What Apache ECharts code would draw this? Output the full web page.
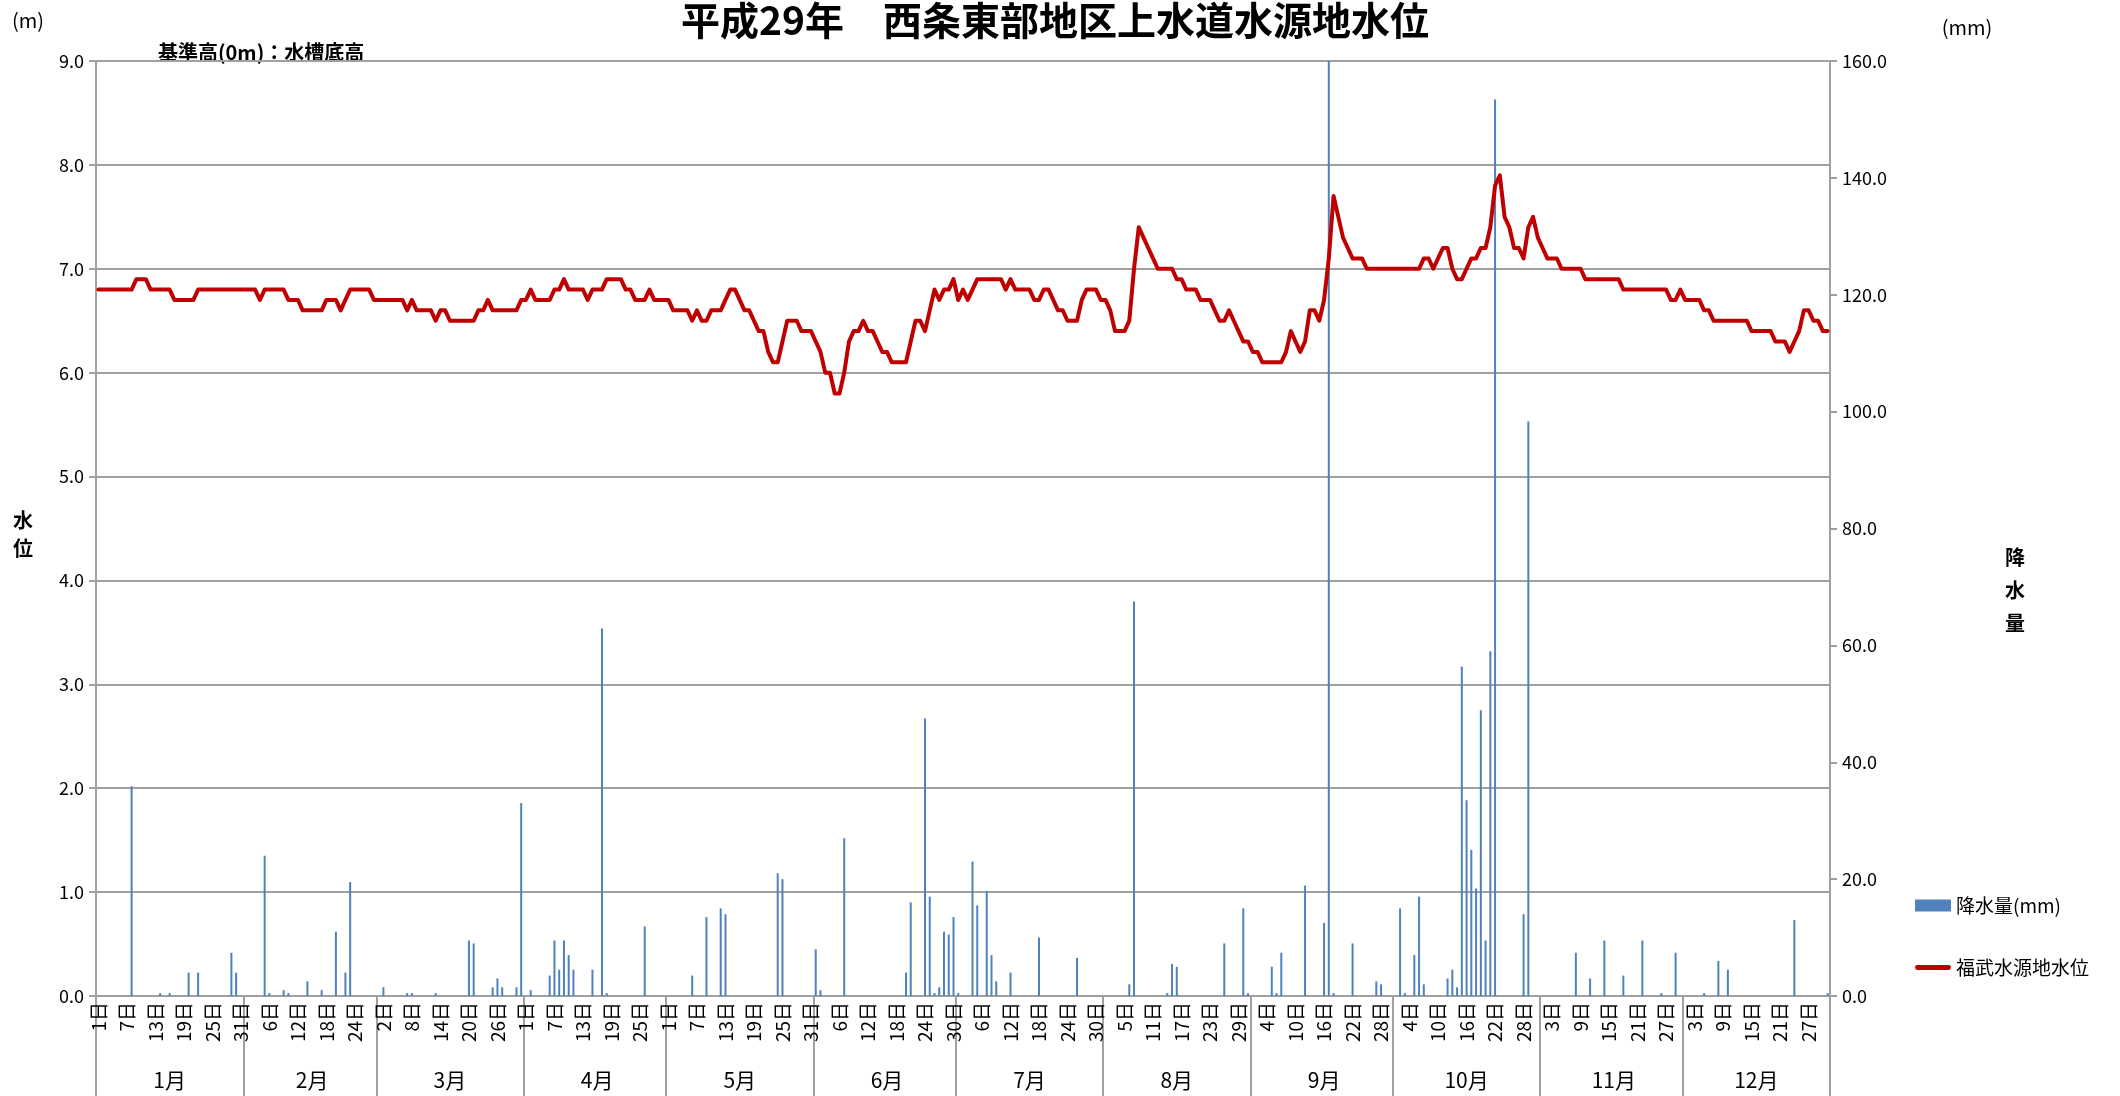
<!DOCTYPE html>
<html>
<head>
<meta charset="utf-8">
<title>西条東部地区上水道水源地水位</title>
<script src="https://cdn.jsdelivr.net/npm/echarts@6.0.0/dist/echarts.min.js"></script>
<style>
html, body { margin: 0; padding: 0; background: #fff; }
#chart { width: 2120px; height: 1096px; }
</style>
</head>
<body>
<div id="chart"></div>
<script>
var monthNames = ['1月', '2月', '3月', '4月', '5月', '6月', '7月', '8月', '9月', '10月', '11月', '12月'];
var monthDays = [31, 28, 31, 30, 31, 30, 31, 31, 30, 31, 30, 31];

// 福武水源地水位 (m) 日別
var levelJan = [6.8,6.8,6.8,6.8,6.8,6.8,6.8,6.8,6.9,6.9, 6.9,6.8,6.8,6.8,6.8,6.8,6.7,6.7,6.7,6.7, 6.7,6.8,6.8,6.8,6.8,6.8,6.8,6.8,6.8,6.8, 6.8];
var levelFeb = [6.8,6.8,6.8,6.7,6.8,6.8,6.8,6.8,6.8,6.7, 6.7,6.7,6.6,6.6,6.6,6.6,6.6,6.7,6.7,6.7, 6.6,6.7,6.8,6.8,6.8,6.8,6.8,6.7];
var levelMar = [6.7,6.7,6.7,6.7,6.7,6.7,6.6,6.7,6.6,6.6, 6.6,6.6,6.5,6.6,6.6,6.5,6.5,6.5,6.5,6.5, 6.5,6.6,6.6,6.7,6.6,6.6,6.6,6.6,6.6,6.6, 6.7];
var levelApr = [6.7,6.8,6.7,6.7,6.7,6.7,6.8,6.8,6.9,6.8, 6.8,6.8,6.8,6.7,6.8,6.8,6.8,6.9,6.9,6.9, 6.9,6.8,6.8,6.7,6.7,6.7,6.8,6.7,6.7,6.7];
var levelMay = [6.7,6.6,6.6,6.6,6.6,6.5,6.6,6.5,6.5,6.6, 6.6,6.6,6.7,6.8,6.8,6.7,6.6,6.6,6.5,6.4, 6.4,6.2,6.1,6.1,6.3,6.5,6.5,6.5,6.4,6.4, 6.4];
var levelJun = [6.3,6.2,6.0,6.0,5.8,5.8,6.0,6.3,6.4,6.4, 6.5,6.4,6.4,6.3,6.2,6.2,6.1,6.1,6.1,6.1, 6.3,6.5,6.5,6.4,6.6,6.8,6.7,6.8,6.8,6.9];
var levelJul = [6.7,6.8,6.7,6.8,6.9,6.9,6.9,6.9,6.9,6.9, 6.8,6.9,6.8,6.8,6.8,6.8,6.7,6.7,6.8,6.8, 6.7,6.6,6.6,6.5,6.5,6.5,6.7,6.8,6.8,6.8, 6.7];
var levelAug = [6.7,6.6,6.4,6.4,6.4,6.5,7.0,7.4,7.3,7.2, 7.1,7.0,7.0,7.0,7.0,6.9,6.9,6.8,6.8,6.8, 6.7,6.7,6.7,6.6,6.5,6.5,6.6,6.5,6.4,6.3, 6.3];
var levelSep = [6.2,6.2,6.1,6.1,6.1,6.1,6.1,6.2,6.4,6.3, 6.2,6.3,6.6,6.6,6.5,6.7,7.1,7.7,7.5,7.3, 7.2,7.1,7.1,7.1,7.0,7.0,7.0,7.0,7.0,7.0];
var levelOct = [7.0,7.0,7.0,7.0,7.0,7.0,7.1,7.1,7.0,7.1, 7.2,7.2,7.0,6.9,6.9,7.0,7.1,7.1,7.2,7.2, 7.4,7.8,7.9,7.5,7.4,7.2,7.2,7.1,7.4,7.5, 7.3];
var levelNov = [7.2,7.1,7.1,7.1,7.0,7.0,7.0,7.0,7.0,6.9, 6.9,6.9,6.9,6.9,6.9,6.9,6.9,6.8,6.8,6.8, 6.8,6.8,6.8,6.8,6.8,6.8,6.8,6.7,6.7,6.8];
var levelDec = [6.7,6.7,6.7,6.7,6.6,6.6,6.5,6.5,6.5,6.5, 6.5,6.5,6.5,6.5,6.4,6.4,6.4,6.4,6.4,6.3, 6.3,6.3,6.2,6.3,6.4,6.6,6.6,6.5,6.5,6.4, 6.4];

// 降水量 (mm) 日別
var rainJan = [0,0,0,0,0,0,0,35.9,0,0, 0,0,0,0.5,0,0.5,0,0,0,4.0, 0,4.0,0,0,0,0,0,0,7.4,4.0, 0];
var rainFeb = [0,0,0,0,24.0,0.5,0,0,1.0,0.5, 0,0,0,2.5,0,0,1.0,0,0,11.0, 0,4.0,19.5,0,0,0,0,0];
var rainMar = [0,1.5,0,0,0,0,0.5,0.5,0,0, 0,0,0.5,0,0,0,0,0,0,9.5, 9.0,0,0,0,1.5,3.0,1.5,0,0,1.5, 33.0];
var rainApr = [0,1.0,0,0,0,3.5,9.5,4.5,9.5,7.0, 4.5,0,0,0,4.5,0,62.9,0.5,0,0, 0,0,0,0,0,11.9,0,0,0,0];
var rainMay = [0,0,0,0,0,3.5,0,0,13.5,0, 0,15.0,14.0,0,0,0,0,0,0,0, 0,0,0,21.0,20.0,0,0,0,0,0, 0];
var rainJun = [8.0,1.0,0,0,0,0,27.0,0,0,0, 0,0,0,0,0,0,0,0,0,4.0, 16.0,0,0,47.5,17.0,0.5,1.5,11.0,10.5,13.5];
var rainJul = [0.5,0,0,23.0,15.5,0,18.0,7.0,2.5,0, 0,4.0,0,0,0,0,0,10.0,0,0, 0,0,0,0,0,6.5,0,0,0,0, 0];
var rainAug = [0,0,0,0,0,2.0,67.5,0,0,0, 0,0,0,0.5,5.5,5.0,0,0,0,0, 0,0,0,0,0,9.0,0,0,0,15.0, 0.5];
var rainSep = [0,0,0,0,5.0,0.5,7.4,0,0,0, 0,18.9,0,0,0,12.5,160.0,0.5,0,0, 0,9.0,0,0,0,0,2.5,2.0,0,0];
var rainOct = [0,15.0,0.5,0,7.0,17.0,2.0,0,0,0, 0,3.0,4.5,1.5,56.4,33.5,25.0,18.4,48.9,9.5, 59.0,153.4,0,0,0,0,0,14.0,98.3,0, 0];
var rainNov = [0,0,0,0,0,0,0,7.4,0,0, 3.0,0,0,9.5,0,0,0,3.5,0,0, 0,9.5,0,0,0,0.5,0,0,7.4,0];
var rainDec = [0,0,0,0,0.5,0,0,6.0,0,4.5, 0,0,0,0,0,0,0,0,0,0, 0,0,0,13.0,0,0,0,0,0,0, 0.5];

var levelData = [].concat(levelJan, levelFeb, levelMar, levelApr, levelMay, levelJun,
    levelJul, levelAug, levelSep, levelOct, levelNov, levelDec);
var rainData = [].concat(rainJan, rainFeb, rainMar, rainApr, rainMay, rainJun,
    rainJul, rainAug, rainSep, rainOct, rainNov, rainDec);

// 日ラベルと月の区切り
var dayLabels = [];
var monthOfDay = [];
var monthStart = {};
var monthMid = {};
var pos = 0;
for (var m = 0; m < 12; m++) {
    monthStart[pos] = true;
    monthMid[pos + Math.floor(monthDays[m] / 2)] = true;
    for (var d = 1; d <= monthDays[m]; d++) {
        dayLabels.push(d + '日');
        monthOfDay.push(m);
    }
    pos += monthDays[m];
}

var FONT = '"Noto Sans CJK JP", "Noto Sans", sans-serif';
var GRAY = '#a0a0a0';

var chart = echarts.init(document.getElementById('chart'));
chart.setOption({
    animation: false,
    backgroundColor: '#fff',
    textStyle: { fontFamily: FONT, color: '#000' },
    grid: { left: 96, right: 290, top: 61, bottom: 100, containLabel: false },
    legend: {
        orient: 'vertical',
        left: 1910,
        top: 891,
        itemWidth: 36,
        itemHeight: 12,
        itemGap: 43,
        symbolKeepAspect: true,
        textStyle: { fontFamily: FONT, fontSize: 19, color: '#000' },
        data: [
            { name: '降水量(mm)', icon: 'rect' },
            { name: '福武水源地水位', icon: 'path://M2,0L34,0A2.5,2.5,0,0,1,34,5L2,5A2.5,2.5,0,0,1,2,0Z' }
        ]
    },
    xAxis: [{
        type: 'category',
        data: dayLabels,
        boundaryGap: true,
        axisLine: { lineStyle: { color: GRAY, width: 2 } },
        axisTick: {
            show: true,
            length: 100,
            interval: function (idx) { return !!monthStart[idx]; },
            lineStyle: { color: GRAY, width: 2 }
        },
        axisLabel: {
            interval: 5,
            rotate: 90,
            margin: 6,
            fontSize: 19,
            fontFamily: FONT,
            color: '#000'
        },
        splitLine: { show: false }
    }, {
        type: 'category',
        data: dayLabels,
        position: 'bottom',
        offset: 66,
        axisLine: { show: false },
        axisTick: { show: false },
        axisLabel: {
            interval: function (idx) { return !!monthMid[idx]; },
            formatter: function (v, idx) { return monthNames[monthOfDay[idx]]; },
            margin: 8,
            fontSize: 21,
            fontFamily: FONT,
            color: '#000'
        },
        splitLine: { show: false }
    }],
    yAxis: [{
        type: 'value',
        min: 0,
        max: 9,
        interval: 1,
        position: 'left',
        axisLine: { show: true, lineStyle: { color: GRAY, width: 2 } },
        axisTick: { show: true, length: 7, lineStyle: { color: GRAY, width: 2 } },
        axisLabel: {
            margin: 12,
            fontSize: 18,
            fontFamily: FONT,
            color: '#000',
            formatter: function (v) { return v.toFixed(1); }
        },
        splitLine: { show: true, lineStyle: { color: GRAY, width: 2 } }
    }, {
        type: 'value',
        min: 0,
        max: 160,
        interval: 20,
        position: 'right',
        axisLine: { show: true, lineStyle: { color: GRAY, width: 2 } },
        axisTick: { show: true, length: 7, lineStyle: { color: GRAY, width: 2 } },
        axisLabel: {
            margin: 12,
            fontSize: 18,
            fontFamily: FONT,
            color: '#000',
            formatter: function (v) { return v.toFixed(1); }
        },
        splitLine: { show: false }
    }],
    series: [{
        name: '降水量(mm)',
        type: 'bar',
        xAxisIndex: 0,
        yAxisIndex: 1,
        data: rainData,
        barWidth: 2,
        clip: true,
        itemStyle: { color: '#4f81bd' }
    }, {
        name: '福武水源地水位',
        type: 'line',
        xAxisIndex: 0,
        yAxisIndex: 0,
        data: levelData,
        symbol: 'none',
        showSymbol: false,
        lineStyle: { color: '#c00000', width: 4, cap: 'round', join: 'round' },
        itemStyle: { color: '#c00000' },
        z: 5
    }],
    graphic: [{
        type: 'text', x: 1055, y: 20,
        style: { text: '平成29年　西条東部地区上水道水源地水位', font: 'bold 39px ' + FONT, fill: '#000', align: 'center', verticalAlign: 'middle' }
    }, {
        type: 'text', x: 158, y: 52,
        style: { text: '基準高(0m)：水槽底高', font: 'bold 20px ' + FONT, fill: '#000', align: 'left', verticalAlign: 'middle' }
    }, {
        type: 'text', x: 28, y: 20,
        style: { text: '(m)', font: '20px ' + FONT, fill: '#000', align: 'center', verticalAlign: 'middle' }
    }, {
        type: 'text', x: 1967, y: 27,
        style: { text: '(mm)', font: '20px ' + FONT, fill: '#000', align: 'center', verticalAlign: 'middle' }
    }, {
        type: 'text', x: 23, y: 534,
        style: { text: '水\n位', font: 'bold 20px ' + FONT, lineHeight: 28, fill: '#000', align: 'center', verticalAlign: 'middle' }
    }, {
        type: 'text', x: 2015, y: 590,
        style: { text: '降\n水\n量', font: 'bold 20px ' + FONT, lineHeight: 33, fill: '#000', align: 'center', verticalAlign: 'middle' }
    }]
});
</script>
</body>
</html>
